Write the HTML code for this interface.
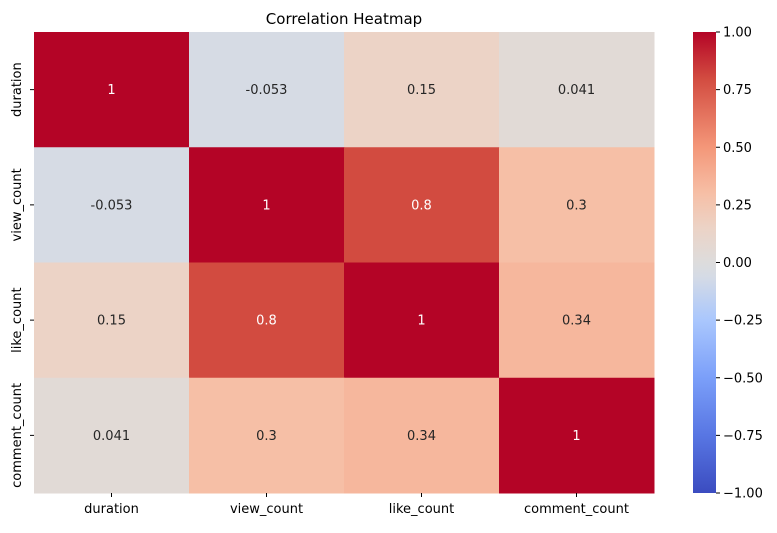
<!DOCTYPE html>
<html><head><meta charset="utf-8"><style>
body{margin:0;background:#fff;}
svg text{font-family:"DejaVu Sans","Liberation Sans",sans-serif;}
</style></head><body>
<svg id="chart" width="777" height="528">
<text x="344" y="24" font-size="15" text-anchor="middle" fill="#000">Correlation Heatmap</text>
</svg>
<script>
const labels = ["duration","view_count","like_count","comment_count"];
const matrix = [
 [1,-0.053,0.15,0.041],
 [-0.053,1,0.8,0.3],
 [0.15,0.8,1,0.34],
 [0.041,0.3,0.34,1]
];
const cbTicks = [1.00,0.75,0.50,0.25,0.00,-0.25,-0.50,-0.75,-1.00];
const vmin=-1, vmax=1;
const stops=[[0,[59,76,192]],[0.125,[88,118,227]],[0.25,[123,159,249]],[0.375,[170,199,253]],[0.47,[213,219,229]],[0.5,[221,220,220]],[0.575,[236,211,198]],[0.65,[246,191,166]],[0.75,[244,151,121]],[0.9,[210,75,64]],[1,[180,4,38]]];
function color(v){const t=(v-vmin)/(vmax-vmin);for(let i=1;i<stops.length;i++){if(t<=stops[i][0]){const a=stops[i-1],b=stops[i];const f=(t-a[0])/(b[0]-a[0]);const c=a[1].map((x,k)=>Math.round(x+(b[1][k]-x)*f));return `rgb(${c.join(',')})`;}}return 'rgb(180,4,38)';}
const L=34,T=32,R=654,B=493;const n=labels.length;const cw=(R-L)/n,ch=(B-T)/n;
const xs=i=>L+i*cw, ys=j=>T+j*ch;
const svg=document.getElementById('chart');const NS='http://www.w3.org/2000/svg';
function mk(tag,attrs,text){const e=document.createElementNS(NS,tag);for(const k in attrs)e.setAttribute(k,attrs[k]);if(text!==undefined)e.textContent=text;svg.appendChild(e);return e;}
for(let r=0;r<n;r++)for(let c=0;c<n;c++){const v=matrix[r][c];
 const rc=mk('rect',{x:xs(c),y:ys(r),width:cw+0.5,height:ch+0.5,fill:color(v)});
 
 
 const t=mk('text',{x:xs(c)+cw/2,y:ys(r)+ch/2+4.5,'font-size':'13','text-anchor':'middle',fill:Math.abs(v)>0.6?'#fff':'#262626'},String(v));
 
 }
labels.forEach((lb,i)=>{
 mk('line',{x1:xs(i)+cw/2,x2:xs(i)+cw/2,y1:B,y2:B+4,stroke:'#000'});
 const tx=mk('text',{x:xs(i)+cw/2,y:B+20,'font-size':'13','text-anchor':'middle'},lb);
 
 
 mk('line',{x1:L-4,x2:L,y1:ys(i)+ch/2,y2:ys(i)+ch/2,stroke:'#000'});
 const yy=ys(i)+ch/2, xx=L-13;
 const ty=mk('text',{x:xx,y:yy,'font-size':'13','text-anchor':'middle',transform:`rotate(-90 ${xx} ${yy})`},lb);
 
 
});
const defs=mk('defs',{});const g=document.createElementNS(NS,'linearGradient');g.setAttribute('id','cb');g.setAttribute('x1','0');g.setAttribute('y1','1');g.setAttribute('x2','0');g.setAttribute('y2','0');
stops.forEach(s=>{const st=document.createElementNS(NS,'stop');st.setAttribute('offset',s[0]);st.setAttribute('stop-color',`rgb(${s[1].join(',')})`);g.appendChild(st);});defs.appendChild(g);
const CL=693,CR=716;
const cb=mk('rect',{x:CL,y:T,width:CR-CL,height:B-T,fill:'url(#cb)'});


const cy=v=>B-(v-vmin)/(vmax-vmin)*(B-T);
cbTicks.forEach(v=>{mk('line',{x1:CR,x2:CR+4,y1:cy(v),y2:cy(v),stroke:'#000'});
 const t=mk('text',{x:CR+7,y:cy(v)+4.5,'font-size':'13'},v.toFixed(2).replace('-','\u2212'));
 
 });
</script>
</body></html>
